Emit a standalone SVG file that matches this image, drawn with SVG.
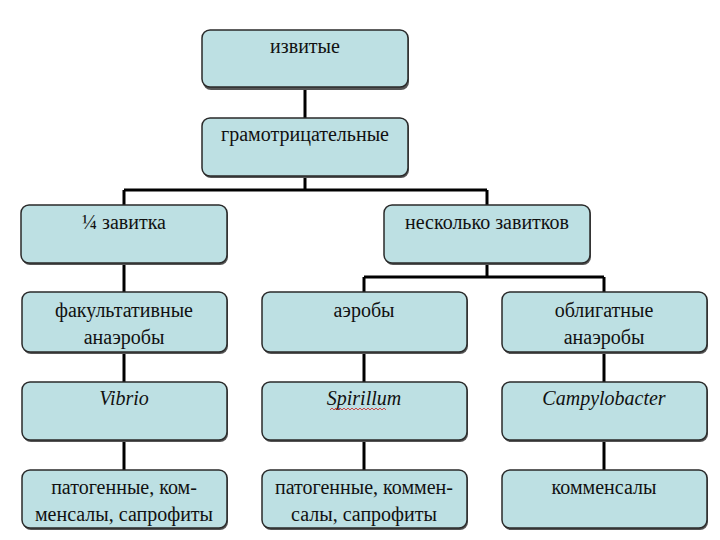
<svg xmlns="http://www.w3.org/2000/svg" width="720" height="540" viewBox="0 0 720 540">
<style>
.box{fill:#bde0e3;stroke:#2a2a2a;stroke-width:1.5}
.sh{fill:#555}
.t{font-family:"Liberation Serif","Times New Roman",serif;font-size:20px;fill:#111;text-anchor:middle}
.i{font-style:italic}
.c{stroke:#000;stroke-width:3;fill:none}
</style>
<rect width="720" height="540" fill="#fff"/>
<g id="connectors">
<path class="c" d="M305 88V118M305 177V190M124 190H487M124 190V205M487 190V205M124 263V292M487 263V277M364 277H604M364 277V292M604 277V292M124 352V382M364 352V382M604 352V382M124 440V470M364 440V470M604 440V470"/>
</g>
<g id="n1"><rect class="sh" x="203" y="32" width="206" height="58" rx="8"/><rect class="box" x="202" y="30" width="206" height="57" rx="8"/><text class="t" x="305" y="53">извитые</text></g>
<g id="n2"><rect class="sh" x="203" y="120" width="206" height="58" rx="8"/><rect class="box" x="202" y="118" width="206" height="58" rx="8"/><text class="t" x="305" y="141">грамотрицательные</text></g>
<g id="n3"><rect class="sh" x="22" y="207" width="206" height="58" rx="8"/><rect class="box" x="21" y="205" width="206" height="58" rx="8"/><text class="t" x="124" y="229">¼ завитка</text></g>
<g id="n4"><rect class="sh" x="385" y="207" width="206" height="58" rx="8"/><rect class="box" x="384" y="205" width="206" height="58" rx="8"/><text class="t" x="487" y="229">несколько завитков</text></g>
<g id="n5"><rect class="sh" x="23" y="294" width="205" height="60" rx="8"/><rect class="box" x="22" y="292" width="205" height="60" rx="8"/><text class="t" x="124" y="317">факультативные</text><text class="t" x="124" y="344">анаэробы</text></g>
<g id="n6"><rect class="sh" x="263" y="294" width="205" height="60" rx="8"/><rect class="box" x="262" y="292" width="205" height="60" rx="8"/><text class="t" x="364" y="317">аэробы</text></g>
<g id="n7"><rect class="sh" x="503" y="294" width="205" height="60" rx="8"/><rect class="box" x="502" y="292" width="205" height="60" rx="8"/><text class="t" x="604" y="317">облигатные</text><text class="t" x="604" y="344">анаэробы</text></g>
<g id="n8"><rect class="sh" x="23" y="384" width="205" height="58" rx="8"/><rect class="box" x="22" y="382" width="205" height="58" rx="8"/><text class="t i" x="124" y="405">Vibrio</text></g>
<g id="n9"><rect class="sh" x="263" y="384" width="205" height="58" rx="8"/><rect class="box" x="262" y="382" width="205" height="58" rx="8"/><text class="t i" x="364" y="405">Spirillum</text><path d="M330 410l2-2 2 2 2-2 2 2 2-2 2 2 2-2 2 2 2-2 2 2 2-2 2 2 2-2 2 2 2-2 2 2 2-2 2 2 2-2 2 2 2-2 2 2 2-2 2 2 2-2 2 2 2-2 2 2" fill="none" stroke="#d02020" stroke-width="0.8"/></g>
<g id="n10"><rect class="sh" x="503" y="384" width="205" height="58" rx="8"/><rect class="box" x="502" y="382" width="205" height="58" rx="8"/><text class="t i" x="604" y="405">Campylobacter</text></g>
<g id="n11"><rect class="sh" x="23" y="472" width="205" height="58" rx="8"/><rect class="box" x="22" y="470" width="205" height="58" rx="8"/><text class="t" x="124" y="494">патогенные, ком-</text><text class="t" x="124" y="521">менсалы, сапрофиты</text></g>
<g id="n12"><rect class="sh" x="263" y="472" width="205" height="58" rx="8"/><rect class="box" x="262" y="470" width="205" height="58" rx="8"/><text class="t" x="364" y="494">патогенные, коммен-</text><text class="t" x="364" y="521">салы, сапрофиты</text></g>
<g id="n13"><rect class="sh" x="503" y="472" width="205" height="58" rx="8"/><rect class="box" x="502" y="470" width="205" height="58" rx="8"/><text class="t" x="604" y="494">комменсалы</text></g>
</svg>
